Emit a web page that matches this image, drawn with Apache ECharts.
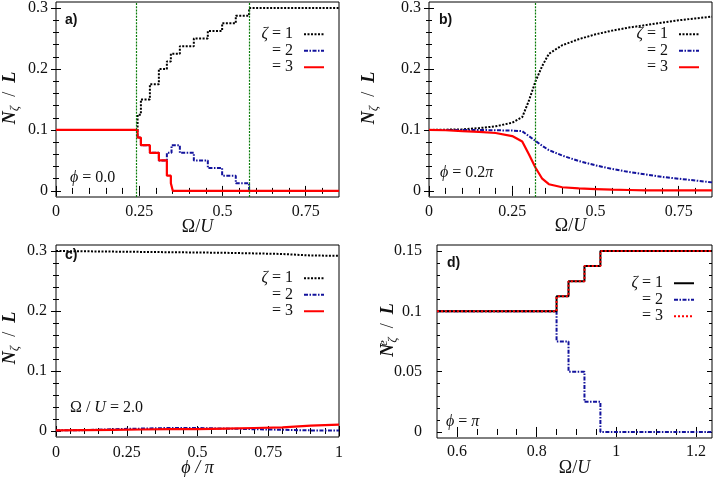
<!DOCTYPE html>
<html><head><meta charset="utf-8">
<script src="https://cdn.jsdelivr.net/npm/echarts@6/dist/echarts.min.js"></script>
<style>html,body{margin:0;padding:0;background:#fff}#c{width:714px;height:480px}</style>
</head><body><div id="c"></div>
<script>
// ---------- Panel a) phi = 0.0 (step data, Omega/U -> N_zeta/L) ----------
const aOmega1 = [0, 0.245, 0.255, 0.282, 0.309, 0.333, 0.345, 0.372, 0.414, 0.456, 0.499, 0.54, 0.58, 0.85];
const aN1     = [0.1, 0.125, 0.15, 0.175, 0.2, 0.2125, 0.225, 0.2375, 0.25, 0.2625, 0.275, 0.2875, 0.3, 0.3];
const aOmega2 = [0, 0.245, 0.255, 0.282, 0.309, 0.333, 0.347, 0.372, 0.414, 0.456, 0.499, 0.54, 0.58, 0.85];
const aN2     = [0.1, 0.0875, 0.075, 0.0625, 0.05, 0.0625, 0.075, 0.0625, 0.05, 0.0375, 0.025, 0.0125, 0, 0];
const aOmega3 = [0, 0.245, 0.255, 0.282, 0.309, 0.333, 0.345, 0.351, 0.85];
const aN3     = [0.1, 0.0875, 0.075, 0.0625, 0.05, 0.025, 0.0125, 0, 0];
const aTransitions = [0.245, 0.58];

// ---------- Panel b) phi = 0.2 pi ----------
const bOmega = [0, 0.05, 0.1, 0.15, 0.2, 0.25, 0.28, 0.3, 0.32, 0.34, 0.36, 0.4, 0.45, 0.5, 0.55, 0.6, 0.65, 0.7, 0.75, 0.8, 0.85];
const bN1 = [0.1, 0.1005, 0.101, 0.103, 0.106, 0.112, 0.121, 0.148, 0.18, 0.205, 0.225, 0.239, 0.249, 0.257, 0.263, 0.268, 0.272, 0.276, 0.28, 0.283, 0.286];
const bN2 = [0.1, 0.1, 0.1, 0.1, 0.0995, 0.099, 0.098, 0.09, 0.082, 0.074, 0.067, 0.058, 0.049, 0.042, 0.036, 0.031, 0.027, 0.023, 0.02, 0.017, 0.014];
const bN3 = [0.1, 0.0995, 0.098, 0.097, 0.095, 0.09, 0.081, 0.06, 0.038, 0.02, 0.011, 0.006, 0.004, 0.003, 0.002, 0.0015, 0.001, 0.001, 0.001, 0.001, 0.001];
const bTransitions = [0.32];

// ---------- Panel c) Omega/U = 2.0 (phi/pi -> N_zeta/L) ----------
const cPhi = [0, 0.1, 0.2, 0.3, 0.4, 0.5, 0.6, 0.7, 0.8, 0.9, 1];
const cN1 = [0.3, 0.2995, 0.299, 0.2985, 0.298, 0.2975, 0.297, 0.296, 0.295, 0.2925, 0.292];
const cN2 = [0.001, 0.0015, 0.003, 0.004, 0.005, 0.005, 0.004, 0.003, 0.002, 0.001, 0.001];
const cN3 = [0.001, 0.0015, 0.002, 0.0025, 0.003, 0.003, 0.004, 0.005, 0.006, 0.009, 0.0105];

// ---------- Panel d) phi = pi (step data, Omega/U -> N^e_zeta/L) ----------
const dOmega = [0.55, 0.85, 0.88, 0.92, 0.96, 1.24];
const dN1 = [0.1, 0.1125, 0.125, 0.1375, 0.15, 0.15];
const dN2 = [0.1, 0.075, 0.05, 0.025, 0, 0];
const dN3 = [0.1, 0.1125, 0.125, 0.1375, 0.15, 0.15];

// ---------- Tick values ----------
const abXTicks = [0, 0.25, 0.5, 0.75];
const abXMinor = [0.05, 0.1, 0.15, 0.2, 0.3, 0.35, 0.4, 0.45, 0.55, 0.6, 0.65, 0.7, 0.8];
const cXTicks = [0, 0.25, 0.5, 0.75, 1];
const cXMinor = [0.05, 0.1, 0.15, 0.2, 0.3, 0.35, 0.4, 0.45, 0.55, 0.6, 0.65, 0.7, 0.8, 0.85, 0.9, 0.95];
const nYTicks = [0, 0.1, 0.2, 0.3];
const nYMinor = [0.02, 0.04, 0.06, 0.08, 0.12, 0.14, 0.16, 0.18, 0.22, 0.24, 0.26, 0.28];
const dXTicks = [0.6, 0.8, 1, 1.2];
const dXMinor = [0.65, 0.7, 0.75, 0.85, 0.9, 0.95, 1.05, 1.1, 1.15];
const dYTicks = [0, 0.05, 0.1, 0.15];
const dYMinor = [0.01, 0.02, 0.03, 0.04, 0.06, 0.07, 0.08, 0.09, 0.11, 0.12, 0.13, 0.14];

const legendLabels = ['{i|ζ} = 1', '= 2', '= 3'];

// ---------- styles ----------
const SERIF = 'Liberation Serif';
const SANS = 'Liberation Sans';
const BLACK_DOT = {color: '#000', width: 2, type: [2, 1.5]};
const BLACK_SOLID = {color: '#000', width: 2, type: 'solid'};
const BLUE_DD = {color: '#12129c', width: 2, type: [4, 1.5, 1.5, 1.5]};
const RED_SOLID = {color: '#ff0000', width: 2.2, type: 'solid'};
const RED_DOT = {color: '#ff0000', width: 2, type: [2, 2]};
const GREEN = {color: '#0a7d0a', width: 1.2, type: [2, 1.2]};

const zip = (xs, ys) => xs.map((x, i) => [x, ys[i]]);

const grids = [
  {left: 56, top: 2, width: 283, height: 195},
  {left: 429, top: 2, width: 283, height: 195},
  {left: 56, top: 245, width: 283, height: 192},
  {left: 437, top: 245, width: 275, height: 193}
].map(g => Object.assign({show: true, borderColor: '#000', borderWidth: 1, backgroundColor: 'transparent', containLabel: false, outerBoundsMode: 'none'}, g));

const nameRich = {
  t: {fontFamily: SERIF, fontSize: 18, fill: '#111', color: '#111'},
  i: {fontFamily: SERIF, fontSize: 18, fontStyle: 'italic', fill: '#111', color: '#111'},
  b: {fontFamily: SERIF, fontSize: 18, fontStyle: 'italic', fontWeight: 'bold', fill: '#111', color: '#111'},
  s: {fontFamily: SERIF, fontSize: 13, fontStyle: 'italic', fill: '#111', color: '#111', padding: [9, 0, 0, 0]},
  e: {fontFamily: SERIF, fontSize: 13, fontStyle: 'italic', fill: '#111', color: '#111', padding: [0, 0, 9, 0], width: 1}
};

const xAxes = [], yAxes = [];
function addAxes(list, dim, g, min, max, majors, minors, opts) {
  const sides = dim === 'x' ? ['bottom', 'top'] : ['left', 'right'];
  const base = {type: 'value', gridIndex: g, min: min, max: max, scale: false,
    axisLine: {show: false}, splitLine: {show: false}, minorTick: {show: false}, silent: true};
  sides.forEach((side, si) => {
    [[majors, 5], [minors, 3]].forEach(([vals, len], k) => {
      const ax = Object.assign({}, base, {
        position: side,
        axisTick: {show: true, inside: true, length: len, customValues: vals, lineStyle: {color: '#000', width: 1}},
        axisLabel: {show: false}
      });
      if (si === 0 && k === 0) {
        ax.axisLabel = {show: true, customValues: majors, fontFamily: SERIF, fontSize: 16, color: '#111', margin: opts.margin};
        if (opts.name) {
          ax.name = opts.name;
          ax.nameLocation = 'middle';
          ax.nameGap = opts.nameGap;
          ax.nameMoveOverlap = false;
          ax.nameTextStyle = {rich: nameRich, fontFamily: SERIF, fontSize: 18, color: '#111'};
        }
      }
      list.push(ax);
    });
  });
}
const X_OMEGA = '{t|Ω/}{i|U}';
const Y_N = '{b|N}{s|ζ}{t|  /  }{b|L}';
const Y_NE = '{b|N}{e|e}{s|ζ}{t|  /  }{b|L}';
addAxes(xAxes, 'x', 0, 0, 0.85, abXTicks, abXMinor, {margin: 7, name: X_OMEGA, nameGap: 21});
addAxes(yAxes, 'y', 0, -0.01, 0.31, nYTicks, nYMinor, {margin: 8});
addAxes(xAxes, 'x', 1, 0, 0.85, abXTicks, abXMinor, {margin: 7, name: X_OMEGA, nameGap: 20});
addAxes(yAxes, 'y', 1, -0.01, 0.31, nYTicks, nYMinor, {margin: 8});
addAxes(xAxes, 'x', 2, 0, 1, cXTicks, cXMinor, {margin: 8, name: '{i|ϕ / π}', nameGap: 22});
addAxes(yAxes, 'y', 2, -0.01, 0.31, nYTicks, nYMinor, {margin: 9});
addAxes(xAxes, 'x', 3, 0.55, 1.24, dXTicks, dXMinor, {margin: 6, name: X_OMEGA, nameGap: 21});
addAxes(yAxes, 'y', 3, -0.005, 0.155, dYTicks, dYMinor, {margin: 15});

function ser(name, g, xs, ys, ls, step, z) {
  return {name: name, type: 'line', xAxisIndex: 4 * g, yAxisIndex: 4 * g, data: zip(xs, ys),
    step: step ? 'end' : false, symbol: 'none', showSymbol: false, lineStyle: ls,
    itemStyle: {color: ls.color}, z: z, clip: true, silent: true, animation: false};
}
function vlines(s, vals) {
  s.markLine = {silent: true, symbol: ['none', 'none'], label: {show: false}, lineStyle: GREEN,
    data: vals.map(v => ({xAxis: v})), animation: false, z: 5};
  return s;
}

const series = [
  vlines(ser('a1', 0, aOmega1, aN1, BLACK_DOT, true, 2), aTransitions),
  ser('a2', 0, aOmega2, aN2, BLUE_DD, true, 3),
  ser('a3', 0, aOmega3, aN3, RED_SOLID, true, 4),
  vlines(ser('b1', 1, bOmega, bN1, BLACK_DOT, false, 2), bTransitions),
  ser('b2', 1, bOmega, bN2, BLUE_DD, false, 3),
  ser('b3', 1, bOmega, bN3, RED_SOLID, false, 4),
  ser('c1', 2, cPhi, cN1, BLACK_DOT, false, 2),
  ser('c2', 2, cPhi, cN2, BLUE_DD, false, 3),
  ser('c3', 2, cPhi, cN3, RED_SOLID, false, 4),
  ser('d2', 3, dOmega, dN2, BLUE_DD, true, 2),
  ser('d1', 3, dOmega, dN1, BLACK_SOLID, true, 3),
  ser('d3', 3, dOmega, dN3, RED_DOT, true, 4)
];

function legend(p, right, top) {
  return {data: [p + '1', p + '2', p + '3'], orient: 'vertical', align: 'right', right: right, top: top,
    itemWidth: 20, itemHeight: 12, itemGap: 0, selectedMode: false, padding: 0,
    itemStyle: {opacity: 0, borderWidth: 0},
    formatter: n => legendLabels[+n.slice(1) - 1],
    textStyle: {fontFamily: SERIF, fontSize: 16, color: '#111', lineHeight: 16.5, padding: [0, 6, 0, 0],
      rich: {i: {fontFamily: SERIF, fontSize: 16, fontStyle: 'italic', color: '#111', lineHeight: 16.5}}}};
}

const annRich = {i: {fontFamily: SERIF, fontSize: 16, fontStyle: 'italic', fill: '#111'}};
function ann(x, y, text, bold) {
  return {type: 'text', x: x, y: y, silent: true, z: 100,
    style: {text: text, fill: '#111', verticalAlign: 'middle', align: 'left',
      font: bold ? 'bold 14px "' + SANS + '"' : '16px "' + SERIF + '"', rich: bold ? undefined : annRich}};
}
function yName(x, y, text) {
  return {type: 'text', x: x, y: y, rotation: Math.PI / 2, silent: true, z: 100,
    style: {text: text, fill: '#111', align: 'center', verticalAlign: 'middle',
      font: '18px "' + SERIF + '"', rich: nameRich}};
}

const option = {
  animation: false,
  backgroundColor: '#fff',
  textStyle: {fontFamily: SERIF},
  grid: grids,
  xAxis: xAxes,
  yAxis: yAxes,
  legend: [legend('a', 389, 26), legend('b', 14, 26), legend('c', 389, 270), legend('d', 19, 275)],
  graphic: [
    ann(65, 20, 'a)', true), ann(70, 178, '{i|ϕ} = 0.0'),
    ann(439, 20, 'b)', true), ann(440, 173, '{i|ϕ} = 0.2{i|π}'),
    ann(65, 255, 'c)', true), ann(70, 408, 'Ω / {i|U} = 2.0'),
    ann(447, 263, 'd)', true), ann(446, 422, '{i|ϕ} = {i|π}'),
    yName(10, 98, Y_N), yName(369, 98, Y_N), yName(10, 338, Y_N), yName(388, 330, Y_NE)
  ],
  series: series
};
const chart = echarts.init(document.getElementById('c'), null, {renderer: 'canvas'});
chart.setOption(option);
</script></body></html>
